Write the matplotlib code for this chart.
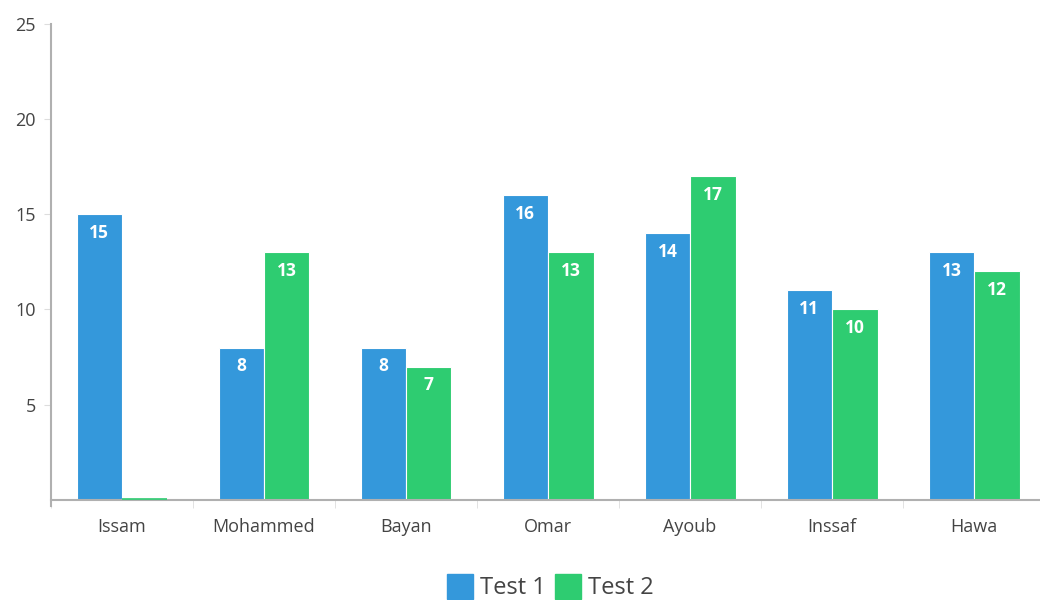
import numpy as np
import matplotlib.pyplot as plt
from matplotlib.patches import Patch

names = ["Issam", "Mohammed", "Bayan", "Omar", "Ayoub", "Inssaf", "Hawa"]
test1 = [15, 8, 8, 16, 14, 11, 13]
test2 = [0, 13, 7, 13, 17, 10, 12]
y_ticks = [5, 10, 15, 20, 25]

blue = "#3498db"
green = "#2ecc71"
axis_grey = "#b0b0b0"
text_grey = "#444444"

plt.rcParams['font.family'] = ['Open Sans', 'DejaVu Sans']

fig = plt.figure(figsize=(10.4, 6), dpi=100)
# plot area runs past the right edge of the picture, as in the original
ax = fig.add_axes([0.049, 0.167, 0.956, 0.793])

x = np.arange(len(names))
w = 0.32
b1 = ax.bar(x - w / 2, test1, w, color=blue, edgecolor="white", linewidth=0.8)
b2 = ax.bar(x + w / 2, test2, w, color=green, edgecolor="white", linewidth=0.8)
# the zero bar shows as a thin green line on the axis
ax.hlines(0.05, x[0], x[0] + w, color=green, linewidth=1.2, zorder=3)

for bars, vals in ((b1, test1), (b2, test2)):
    for rect, v in zip(bars, vals):
        if v <= 0:
            continue
        ax.annotate(str(v), (rect.get_x() + rect.get_width() / 2, v),
                    xytext=(0, -7), textcoords="offset points",
                    ha="center", va="top", color="white",
                    fontsize=12.5, fontweight="bold")

ax.set_xlim(-0.5, len(names) - 0.5)
ax.set_ylim(0, 25)
ax.set_yticks(y_ticks)
ax.set_yticklabels([str(t) for t in y_ticks], fontsize=13, color=text_grey)
ax.set_xticks(x)
ax.set_xticklabels(names, fontsize=13, color=text_grey)
ax.tick_params(axis="x", length=0, pad=13)
ax.tick_params(axis="y", length=5, color="#dddddd", pad=6)
ax.set_xticks(np.arange(len(names) + 1) - 0.5, minor=True)
ax.tick_params(axis="x", which="minor", length=6, color="#dddddd")

for s in ("top", "right"):
    ax.spines[s].set_visible(False)
ax.spines["left"].set_color(axis_grey)
ax.spines["bottom"].set_color(axis_grey)
ax.spines["left"].set_linewidth(1.5)
ax.spines["bottom"].set_linewidth(1.5)
ax.spines["left"].set_bounds(-0.35, 25)

handles = [Patch(color=blue, label="Test 1"), Patch(color=green, label="Test 2")]
fig.legend(handles=handles, loc="center", ncol=2, frameon=False,
           fontsize=17, handlelength=1.1, handleheight=1.2,
           handletextpad=0.3, columnspacing=0.4, labelcolor=text_grey,
           bbox_to_anchor=(0.529, 0.021))

fig.savefig("out.png", dpi=100)
